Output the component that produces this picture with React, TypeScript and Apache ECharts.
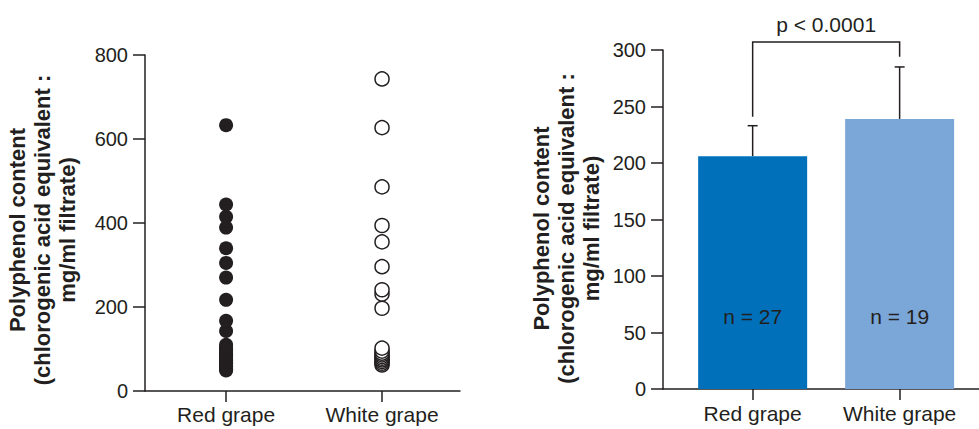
import React, { useEffect, useRef } from "react";
import * as echarts from "echarts";

const categories = ["Red grape", "White grape"];
const redGrape = [49, 52, 55, 59, 62, 66, 70, 73, 77, 81, 85, 89, 93, 97, 101, 105, 110, 143, 167, 217, 270, 305, 340, 389, 415, 444, 633];
const whiteGrape = [62, 66, 70, 74, 78, 82, 86, 90, 95, 102, 197, 231, 241, 296, 355, 394, 486, 627, 743];
const meanValues = [206, 239];
const sdValues = [27, 46];
const nLabels = ["n = 27", "n = 19"];
const barColors = ["#0070BA", "#7BA6D8"];
const pText = "p < 0.0001";
const bracketLegs = [241, 294];
const bracketTop = 307;
const yTitle = "Polyphenol content\n(chlorogenic acid equivalent :\nmg/ml filtrate)";

const INK = "#231f20";
const FONT = "'Liberation Sans', Arial, Helvetica, sans-serif";

export default function App() {
  const ref = useRef<HTMLDivElement>(null);
  useEffect(() => {
    document.body.style.margin = "0";
    const chart = echarts.init(ref.current!, null, { renderer: "svg" });
    const axisLine = { show: true, onZero: false, lineStyle: { color: INK, width: 1.5 } };
    const xAxisCommon = (min: number, max: number, gridIndex: number, margin: number) => ({
      type: "value",
      gridIndex,
      min,
      max,
      axisLine,
      splitLine: { show: false },
      axisTick: { show: true, customValues: [1, 2], length: 11, lineStyle: { color: INK, width: 1.5 } },
      axisLabel: {
        customValues: [1, 2],
        formatter: (v: number) => categories[Math.round(v) - 1] ?? "",
        color: INK,
        fontSize: 21,
        fontFamily: FONT,
        margin,
      },
    });
    const yAxisCommon = (gridIndex: number, max: number, interval: number, gap: number, shift: number) => ({
      type: "value",
      gridIndex,
      min: 0,
      max,
      interval,
      axisLine,
      splitLine: { show: false },
      axisTick: { show: true, length: 12, lineStyle: { color: INK, width: 1.5 } },
      axisLabel: { color: INK, fontSize: 20, fontFamily: FONT, margin: 17 },
      name: yTitle,
      nameLocation: "middle",
      nameRotate: 90,
      nameGap: gap,
      nameTextStyle: {
        color: INK,
        fontSize: 22,
        fontWeight: "bold",
        fontFamily: FONT,
        lineHeight: 25,
        align: "center",
        padding: [0, shift, 0, 0],
      },
    });
    chart.setOption({
      animation: false,
      grid: [
        { left: 145, top: 55, width: 315, height: 336 },
        { left: 663, top: 50, width: 316, height: 339 },
      ],
      xAxis: [xAxisCommon(0.48, 2.5, 0, 13), xAxisCommon(0.39, 2.54, 1, 14)],
      yAxis: [yAxisCommon(0, 800, 200, 65, 14), yAxisCommon(1, 300, 50, 59, 18)],
      series: [
        {
          type: "scatter",
          xAxisIndex: 0,
          yAxisIndex: 0,
          symbolSize: 14,
          itemStyle: { color: INK, opacity: 1 },
          data: redGrape.map((v) => [1, v]),
        },
        {
          type: "scatter",
          xAxisIndex: 0,
          yAxisIndex: 0,
          symbolSize: 14,
          itemStyle: { color: "#ffffff", borderColor: INK, borderWidth: 1.5, opacity: 1 },
          data: whiteGrape.map((v) => [2, v]),
        },
        {
          type: "bar",
          xAxisIndex: 1,
          yAxisIndex: 1,
          barWidth: 109,
          data: meanValues.map((m, i) => ({ value: [i + 1, m], itemStyle: { color: barColors[i] } })),
          label: {
            show: true,
            position: "insideBottom",
            distance: 62,
            formatter: (p: any) => nLabels[p.dataIndex],
            color: INK,
            fontSize: 21,
            fontFamily: FONT,
          },
        },
        {
          type: "custom",
          xAxisIndex: 1,
          yAxisIndex: 1,
          data: meanValues.map((m, i) => [i + 1, m, sdValues[i]]),
          renderItem: (params: any, api: any) => {
            const x = api.value(0);
            const m = api.value(1);
            const sd = api.value(2);
            const base = api.coord([x, m]);
            const top = api.coord([x, m + sd]);
            const style = { stroke: INK, lineWidth: 1.5 };
            return {
              type: "group",
              children: [
                { type: "line", shape: { x1: base[0], y1: base[1], x2: top[0], y2: top[1] }, style },
                { type: "line", shape: { x1: top[0] - 5, y1: top[1], x2: top[0] + 5, y2: top[1] }, style },
              ],
            };
          },
        },
        {
          type: "custom",
          xAxisIndex: 1,
          yAxisIndex: 1,
          clip: false,
          data: [[1, bracketTop, 2, bracketLegs[0], bracketLegs[1]]],
          renderItem: (params: any, api: any) => {
            const x1 = api.value(0);
            const t = api.value(1);
            const x2 = api.value(2);
            const l1 = api.value(3);
            const l2 = api.value(4);
            const a = api.coord([x1, l1]);
            const b = api.coord([x1, t]);
            const c = api.coord([x2, t]);
            const d = api.coord([x2, l2]);
            return {
              type: "group",
              children: [
                {
                  type: "polyline",
                  shape: { points: [a, b, c, d] },
                  style: { stroke: INK, lineWidth: 1.5, fill: "none" },
                },
                {
                  type: "text",
                  x: (b[0] + c[0]) / 2,
                  y: b[1] - 18,
                  style: { text: pText, fill: INK, fontSize: 21, fontFamily: FONT, align: "center", verticalAlign: "middle" },
                },
              ],
            };
          },
        },
      ],
    });
    return () => chart.dispose();
  }, []);
  return <div ref={ref} style={{ width: 979, height: 429 }} />;
}
